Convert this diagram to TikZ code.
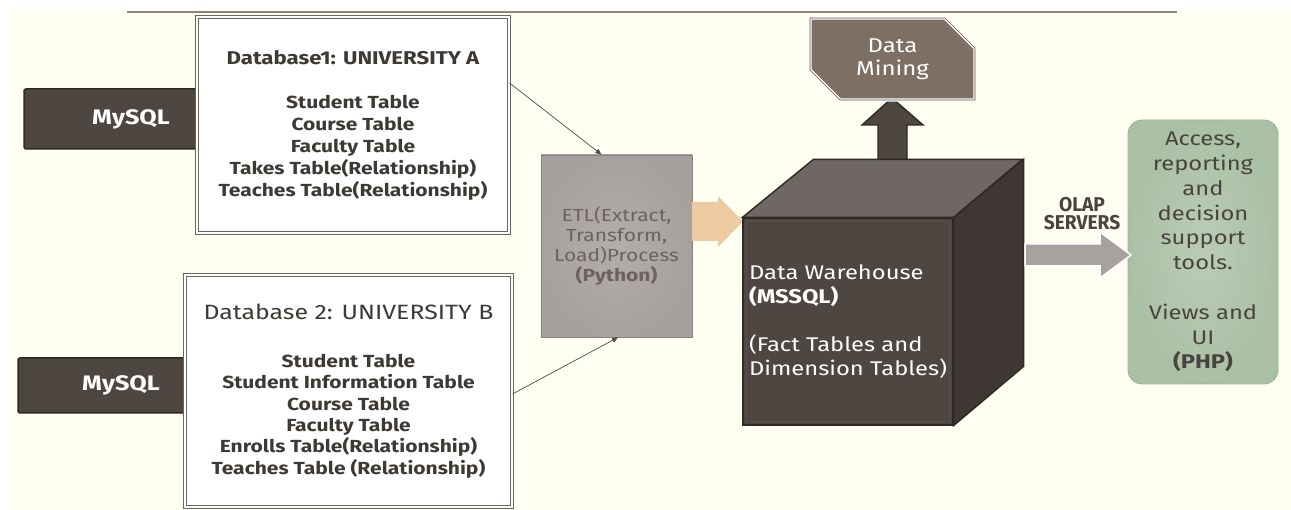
\documentclass[tikz,border=0pt]{standalone}
\usepackage{fontspec}
\setmainfont{Fira Sans}[FakeStretch=1.2]
\usetikzlibrary{calc,arrows.meta,shapes.misc}
\definecolor{cream}{HTML}{FEFEF1}
\definecolor{topline}{HTML}{8B857D}
\definecolor{darkbox}{HTML}{4E4641}
\definecolor{darkedge}{HTML}{2F2926}
\definecolor{dbtext}{HTML}{3D3935}
\definecolor{dbedge}{HTML}{6B6560}
\definecolor{etlA}{HTML}{B4AEAB}
\definecolor{etlB}{HTML}{A7A19E}
\definecolor{etltext}{HTML}{6A6360}
\definecolor{orangefill}{HTML}{EDCBA2}
\definecolor{cubetop}{HTML}{6F6763}
\definecolor{cubeside}{HTML}{3F3734}
\definecolor{cubebevel}{HTML}{5A514C}
\definecolor{minefill}{HTML}{7D6F63}
\definecolor{grayarrow}{HTML}{A7A2A0}
\definecolor{greenA}{HTML}{BBCCB6}
\definecolor{greenB}{HTML}{AAC0A4}
\definecolor{greenedge}{HTML}{9CB296}
\definecolor{greentext}{HTML}{4A4440}
\begin{document}
\begin{tikzpicture}[x=1pt,y=-1pt,
  mysqlbox/.style={draw=darkedge, line width=1.5pt, fill=darkbox, text=white, rounded corners=2pt,
    font=\fontsize{21}{24}\selectfont\bfseries, inner sep=0pt},
  dbbox/.style={draw=dbedge, line width=1pt, double=white, double distance=1.2pt,
    fill=white, text=dbtext, align=center, inner sep=0pt},
  etlbox/.style={draw=etlB!80!black, line width=0.8pt, inner color=etlA, outer color=etlB,
    text=etltext, align=center, inner sep=0pt,
    font=\fontsize{17.5}{20.3}\selectfont},
  thinarrow/.style={draw=dbtext!90, line width=0.7pt, -{Triangle[length=6pt,width=5pt]}},
  cubefront/.style={draw=darkedge, line width=1.2pt, fill=darkbox, text=white,
    align=left, inner sep=0pt,
    font=\fontsize{19.8}{24}\selectfont},
  minebox/.style={chamfered rectangle, chamfered rectangle corners={north east,south west},
    chamfered rectangle xsep=15pt, chamfered rectangle ysep=15pt,
    draw=white, line width=1.4pt, double=minefill!70!black, double distance=0.6pt,
    fill=minefill, text=white, align=center, inner sep=0pt,
    font=\fontsize{20}{23}\selectfont},
  toolbox/.style={rounded corners=14pt, draw=greenedge, line width=0.8pt,
    inner color=greenA, outer color=greenB, text=greentext, align=center, inner sep=0pt,
    font=\fontsize{19.8}{24.8}\selectfont},
  blockedge/.style={line width=1.4pt, line join=miter}
]
\useasboundingbox (0,0) rectangle (1291,510);
\fill[white] (0,0) rectangle (1291,510);
\fill[cream] (11,9) rectangle (1291,510);
\coordinate (tl) at (127,12);
\coordinate (tr) at (1177,12);
\draw[topline, line width=1.2pt] (tl) -- (tr);

% MySQL boxes
\node[mysqlbox, minimum width=214pt, minimum height=60pt] (my1) at (131,119) {MySQL};
\node[mysqlbox, minimum width=206pt, minimum height=55pt] (my2) at (121,385.5) {MySQL};

% Database boxes
\node[dbbox, minimum width=312pt, minimum height=216pt,
      font=\fontsize{17.5}{22}\selectfont\bfseries] (db1) at (353,125)
  {{\fontsize{18.5}{22}\selectfont Database1: UNIVERSITY A}\\[22pt]
   Student Table\\ Course Table\\ Faculty Table\\
   Takes Table(Relationship)\\ Teaches Table(Relationship)};
\node[dbbox, minimum width=327pt, minimum height=232pt,
      font=\fontsize{17.5}{21.4}\selectfont\bfseries] (db2) at (348.5,391)
  {{\fontsize{20.7}{24}\selectfont\mdseries Database 2: UNIVERSITY B}\\[26.6pt]
   Student Table\\ Student Information Table\\ Course Table\\
   Faculty Table\\ Enrolls Table(Relationship)\\ Teaches Table (Relationship)};

% ETL
\node[etlbox, minimum width=151pt, minimum height=182pt] (etl) at (616.5,246)
  {ETL(Extract,\\ Transform,\\ Load)Process\\ \textbf{(Python)}};

\draw[thinarrow] ([yshift=42pt]db1.east) -- ([xshift=-15pt]etl.north);
\draw[thinarrow] ([yshift=-3pt]db2.east) -- ([xshift=1.5pt]etl.south);

% orange block arrow ETL -> warehouse
\fill[orangefill] (692,202) -- (718,202) -- (718,196) -- (743,221.5) -- (718,247) -- (718,241) -- (692,241) -- cycle;

% up arrow warehouse -> data mining
\draw[blockedge, draw=darkedge, fill=darkbox] (878,162) -- (878,125) -- (862,125) -- (892,98) -- (923,125) -- (907,125) -- (907,162) -- cycle;

% Data mining
\node[minebox, minimum width=165pt, minimum height=82pt] (dm) at (892.5,59) {Data\\ Mining};

% Cube
\node[cubefront, minimum width=210pt, minimum height=207pt] (dw) at (848,321.5)
  {Data Warehouse\\ \textbf{(MSSQL)}\\[24pt] (Fact Tables and\\ Dimension Tables)};
\draw[blockedge, draw=darkedge, fill=cubetop] (dw.north west) -- ++(71,-58) -- ++(209,0) -- (dw.north east) -- cycle;
\draw[blockedge, draw=darkedge, fill=cubeside] (dw.north east) -- ++(70,-58) -- ++(0,207) -- (dw.south east) -- cycle;
\draw[line width=0.8pt, draw=cubebevel] ([shift={(4pt,-4pt)}]dw.north west) rectangle ([shift={(-4pt,4pt)}]dw.south east);

% Tools box
\node[toolbox, minimum width=150pt, minimum height=264pt] (tools) at (1203,252)
  {Access,\\ reporting\\ and\\ decision\\ support\\ tools.\\[24.8pt] Views and\\ UI\\ \textbf{(PHP)}};

% OLAP arrow
\draw[line width=1.5pt, draw=white, fill=grayarrow, line join=miter] (1025,244) -- (1100,244) -- (1100,232) -- (1131,255) -- (1100,278) -- (1100,266) -- (1025,266) -- cycle;
\node[text=greentext, align=center, inner sep=0pt, font=\fontsize{20}{18}\selectfont\bfseries] (olap) at (1082,214)
  {\scalebox{0.8}[1]{OLAP}\\ \scalebox{0.8}[1]{SERVERS}};
\end{tikzpicture}
\end{document}
